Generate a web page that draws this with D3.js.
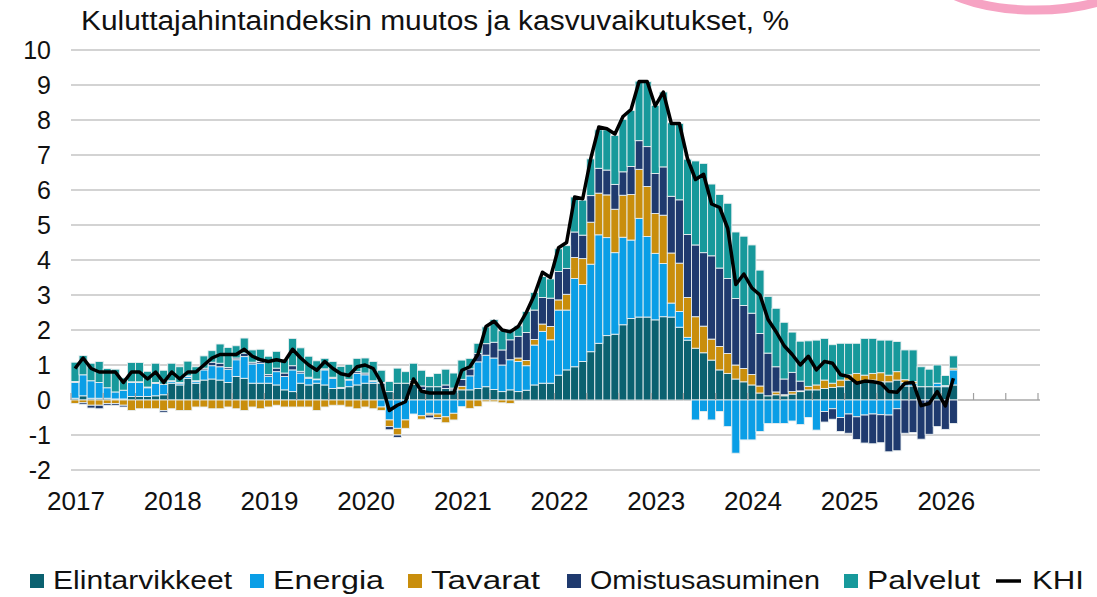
<!DOCTYPE html>
<html>
<head>
<meta charset="utf-8">
<script src="https://cdn.jsdelivr.net/npm/d3@7"></script>
<style>
  body { margin: 0; background: #fff; }
  svg text { font-family: "Liberation Sans", Arial, sans-serif; fill: #111; }
</style>
</head>
<body>
<div id="chart"></div>
<script>
// monthly data, 2017-01 ... 2026-02 (percentage points)
var elintarvikkeet = [
  0.05, 0.12, 0.05, 0.05, 0.05, 0.03, 0.03, 0.1, 0.1, 0.1, 0.12, 0.15,
  0.48, 0.43, 0.62, 0.48, 0.57, 0.6, 0.57, 0.5, 0.67, 0.62, 0.48, 0.48,
  0.48, 0.43, 0.29, 0.24, 0.48, 0.43, 0.48, 0.43, 0.33, 0.33, 0.38, 0.43,
  0.48, 0.48, 0.48, 0.24, 0.48, 0.48, 0.45, 0.3, 0.38, 0.38, 0.33, 0.29,
  0.29, 0.29, 0.33, 0.38, 0.3, 0.24, 0.29, 0.24, 0.28, 0.43, 0.48, 0.48,
  0.71, 0.86, 0.95, 1.1, 1.38, 1.62, 1.84, 1.88, 2.15, 2.33, 2.37, 2.37,
  2.29, 2.38, 2.37, 2.08, 1.71, 1.48, 1.35, 1.14, 0.86, 0.76, 0.6, 0.52,
  0.43, 0.2, 0.12, 0.15, 0.12, 0.17, 0.24, 0.29, 0.29, 0.33, 0.36, 0.38,
  0.57, 0.52, 0.52, 0.57, 0.52, 0.52, 0.57, 0.4, 0.4, 0.38, 0.38, 0.38,
  0.38, 0.43
];
var energia = [
  0.45, 0.6, 0.5, 0.45, 0.3, 0.2, 0.25, 0.4, 0.4, 0.25, 0.35, 0.3,
  0.05, 0.05, 0.05, 0.05, 0.29, 0.38, 0.38, 0.38, 0.48, 0.62, 0.55, 0.57,
  0.2, 0.38, 0.38, 0.62, 0.29, 0.19, 0.1, 0.43, 0.29, 0.0, 0.19, 0.33,
  0.24, 0.05, -0.2, -0.57, -0.81, -0.57, -0.4, -0.45, -0.38, -0.4, -0.48, -0.38,
  -0.19, 0.4, 0.76, 0.9, 0.9, 0.76, 0.86, 0.86, 0.7, 1.14, 1.48, 1.24,
  1.86, 1.71, 2.52, 2.2, 2.5, 3.1, 2.8, 2.33, 2.5, 2.24, 2.82, 2.3,
  1.9, 1.52, 0.4, 0.45, 0.08, -0.57, -0.33, -0.57, -0.33, -0.76, -1.52, -1.14,
  -1.14, -0.9, -0.67, -0.67, -0.67, -0.6, -0.7, -0.5, -0.86, -0.33, -0.25, -0.5,
  -0.4, -0.48, -0.43, -0.4, -0.42, -0.43, -0.25, 0.1, 0.08, 0.0, 0.0, 0.1,
  0.03, 0.43
];
var tavarat = [
  -0.1, -0.08, -0.15, -0.15, -0.1, -0.1, -0.15, -0.3, -0.25, -0.25, -0.25, -0.3,
  -0.25, -0.3, -0.3, -0.2, -0.2, -0.25, -0.25, -0.2, -0.25, -0.3, -0.2, -0.25,
  -0.2, -0.15, -0.2, -0.2, -0.2, -0.2, -0.3, -0.2, -0.15, -0.15, -0.2, -0.25,
  -0.2, -0.25, -0.1, -0.19, -0.19, -0.24, 0.05, -0.1, -0.05, -0.1, -0.17, -0.19,
  0.1, -0.24, -0.19, -0.05, -0.05, -0.08, -0.1, 0.1, 0.15, 0.16, 0.21, 0.38,
  0.29, 0.45, 0.6, 0.74, 1.2, 1.19, 1.22, 1.24, 1.2, 1.3, 1.4, 1.43,
  1.14, 1.38, 1.43, 1.38, 1.14, 0.9, 0.76, 0.6, 0.67, 0.57, 0.4, 0.38,
  0.3, 0.2, 0.0, 0.08, 0.03, 0.07, 0.02, 0.1, 0.14, 0.24, 0.12, 0.19,
  0.15, 0.24, 0.19, 0.19, 0.26, 0.19, 0.24, 0.08, 0.05, 0.0, 0.0, 0.0,
  0.0, 0.05
];
var omistusasuminen = [
  0.03, -0.05, -0.08, -0.1, -0.05, -0.05, -0.05, 0.02, 0.02, 0.02, 0.03, -0.05,
  0.02, 0.02, 0.02, 0.02, 0.05, 0.1, 0.1, 0.05, 0.05, 0.1, 0.05, 0.05,
  0.05, 0.1, 0.1, 0.12, 0.05, 0.03, 0.02, 0.03, 0.03, 0.03, 0.02, 0.05,
  0.05, 0.02, 0.02, -0.09, -0.07, 0.0, 0.05, 0.1, -0.08, -0.05, 0.1, 0.05,
  0.2, 0.2, 0.24, 0.33, 0.45, 0.43, 0.57, 0.62, 0.8, 0.84, 0.76, 0.81,
  0.81, 0.74, 0.73, 0.67, 0.76, 0.71, 0.71, 0.71, 0.67, 0.8, 0.82, 1.14,
  1.14, 1.38, 1.62, 1.81, 1.8, 2.05, 2.1, 2.38, 2.24, 2.14, 1.9, 1.8,
  1.75, 1.5, 1.22, 0.72, 0.45, 0.55, 0.28, 0.0, 0.0, -0.3, -0.3, -0.4,
  -0.55, -0.65, -0.8, -0.85, -0.8, -1.05, -1.2, -0.95, -0.93, -1.12, -0.98, -0.76,
  -0.84, -0.67
];
var palvelut = [
  0.55, 0.55, 0.5, 0.6, 0.55, 0.65, 0.35, 0.55, 0.55, 0.45, 0.55, 0.4,
  0.5, 0.45, 0.42, 0.4, 0.35, 0.33, 0.55, 0.57, 0.35, 0.43, 0.35, 0.35,
  0.52, 0.48, 0.38, 0.78, 0.67, 0.6, 0.52, 0.3, 0.45, 0.6, 0.43, 0.38,
  0.43, 0.55, 0.35, 0.29, 0.43, 0.33, 0.5, 0.45, 0.29, 0.38, 0.45, 0.43,
  0.55, 0.3, 0.29, 0.48, 0.65, 0.55, 0.3, 0.3, 0.6, 0.5, 0.6, 0.55,
  0.65, 0.65, 1.0, 1.0, 1.05, 1.1, 1.15, 1.4, 1.5, 1.6, 1.7, 1.86,
  1.95, 2.14, 2.1, 2.18, 2.15, 2.4, 2.55, 2.05, 2.1, 2.15, 1.9, 1.98,
  1.95, 1.81, 1.62, 1.67, 1.62, 1.15, 1.14, 1.3, 1.28, 1.19, 1.1, 1.05,
  0.9, 0.86, 1.05, 1.0, 0.93, 1.0, 0.86, 0.85, 0.9, 0.57, 0.5, 0.52,
  0.29, 0.35
];
var khi = [
  0.9, 1.2, 0.9, 0.8, 0.8, 0.8, 0.5, 0.8, 0.8, 0.6, 0.8, 0.5,
  0.8, 0.6, 0.8, 0.8, 1.0, 1.2, 1.3, 1.3, 1.3, 1.45, 1.25, 1.15,
  1.1, 1.15, 1.1, 1.45, 1.2, 1.0, 0.85, 1.1, 0.9, 0.75, 0.7, 0.95,
  1.0, 0.9, 0.5, -0.3, -0.15, -0.05, 0.6, 0.25, 0.2, 0.2, 0.2, 0.2,
  0.85, 0.95, 1.3, 2.1, 2.25, 2.0, 1.95, 2.1, 2.5, 3.0, 3.65, 3.5,
  4.35, 4.5, 5.8, 5.75, 6.9, 7.8, 7.75, 7.6, 8.1, 8.3, 9.1, 9.1,
  8.4, 8.8, 7.9, 7.9, 6.9, 6.3, 6.45, 5.6, 5.5, 4.9, 3.3, 3.6,
  3.2, 3.0, 2.3, 1.95, 1.55, 1.3, 1.0, 1.25, 0.86, 1.1, 1.05, 0.72,
  0.67, 0.48, 0.54, 0.52, 0.48, 0.24, 0.22, 0.48, 0.5, -0.16, -0.1, 0.24,
  -0.17, 0.62
];

var seriesNames = ["Elintarvikkeet", "Energia", "Tavarat", "Omistusasuminen", "Palvelut"];
var seriesValues = [elintarvikkeet, energia, tavarat, omistusasuminen, palvelut];
var seriesColors = ["#0b6170", "#0a9ee6", "#c98e0c", "#1f3a6e", "#17999b"];
var yearLabels = ["2017", "2018", "2019", "2020", "2021", "2022", "2023", "2024", "2025", "2026"];
var yTicks = [-2, -1, 0, 1, 2, 3, 4, 5, 6, 7, 8, 9, 10];

var width = 1097,
    height = 597;

var svg = d3.select("#chart")
    .append("svg")
    .attr("width", width)
    .attr("height", height);

// decorative corner shape
svg.append("ellipse")
    .attr("cx", 1035).attr("cy", -28)
    .attr("rx", 102).attr("ry", 38)
    .attr("fill", "#fff")
    .attr("stroke", "#f6a3c3")
    .attr("stroke-width", 9);

var x = d3.scaleBand()
    .domain(d3.range(120))
    .range([71, 1038])
    .padding(0);

var y = d3.scaleLinear()
    .domain([-2, 10])
    .range([470, 50]);

svg.append("text")
    .attr("x", 81)
    .attr("y", 30)
    .attr("font-size", "27px")
    .attr("textLength", 708)
    .attr("lengthAdjust", "spacingAndGlyphs")
    .text("Kuluttajahintaindeksin muutos ja kasvuvaikutukset, %");

// gridlines
svg.append("g")
    .selectAll("line")
    .data(yTicks)
    .enter().append("line")
    .attr("x1", 71)
    .attr("x2", 1040)
    .attr("y1", function (d) { return y(d); })
    .attr("y2", function (d) { return y(d); })
    .attr("stroke", function (d) { return d === 0 ? "#a8a8a8" : "#c4c4c4"; })
    .attr("stroke-width", 1.6);

svg.append("g")
    .selectAll("text")
    .data(yTicks)
    .enter().append("text")
    .attr("x", 51)
    .attr("y", function (d) { return y(d); })
    .attr("dy", "0.36em")
    .attr("text-anchor", "end")
    .attr("font-size", "25px")
    .text(function (d) { return d; });

// stacked bars
var table = khi.map(function (v, i) {
    var row = { i: i };
    seriesNames.forEach(function (name, s) { row[name] = seriesValues[s][i]; });
    return row;
});

var stack = d3.stack()
    .keys(seriesNames)
    .offset(d3.stackOffsetDiverging);

var layers = stack(table);

svg.append("g")
    .selectAll("g")
    .data(layers)
    .enter().append("g")
    .attr("fill", function (d, s) { return seriesColors[s]; })
    .selectAll("rect")
    .data(function (d) { return d; })
    .enter().append("rect")
    .attr("x", function (d) { return x(d.data.i); })
    .attr("width", x.bandwidth())
    .attr("y", function (d) { return y(Math.max(d[0], d[1])); })
    .attr("height", function (d) { return Math.abs(y(d[0]) - y(d[1])); })
    .attr("stroke", "#e8eef0")
    .attr("stroke-width", 0.9);

// small ticks on the zero line every 4 months
svg.append("g")
    .selectAll("line")
    .data(d3.range(0, 121, 4))
    .enter().append("line")
    .attr("x1", function (d) { return 71 + d * x.step(); })
    .attr("x2", function (d) { return 71 + d * x.step(); })
    .attr("y1", y(0) - 7)
    .attr("y2", y(0))
    .attr("stroke", "#a0a0a0")
    .attr("stroke-width", 1.2);

// KHI line
var line = d3.line()
    .x(function (d, i) { return x(i) + x.bandwidth() / 2; })
    .y(function (d) { return y(d); });

svg.append("path")
    .datum(khi)
    .attr("fill", "none")
    .attr("stroke", "#000")
    .attr("stroke-width", 3.5)
    .attr("stroke-linejoin", "round")
    .attr("d", line);

// year labels
svg.append("g")
    .selectAll("text")
    .data(yearLabels)
    .enter().append("text")
    .attr("x", function (d, k) { return x(k * 12) + x.bandwidth() / 2 + 1; })
    .attr("y", 510)
    .attr("text-anchor", "middle")
    .attr("font-size", "26px")
    .text(function (d) { return d; });

// legend (item x positions and text widths taken from the original layout)
var legendX = [30, 250, 408, 567, 844];
var legendW = [179, 111, 109, 230, 113];
var legend = svg.append("g");
seriesNames.forEach(function (name, s) {
    legend.append("rect")
        .attr("x", legendX[s]).attr("y", 574)
        .attr("width", 14).attr("height", 14)
        .attr("fill", seriesColors[s]);
    legend.append("text")
        .attr("x", legendX[s] + 23)
        .attr("y", 589)
        .attr("font-size", "26px")
        .attr("textLength", legendW[s])
        .attr("lengthAdjust", "spacingAndGlyphs")
        .text(name);
});
legend.append("line")
    .attr("x1", 996).attr("x2", 1021)
    .attr("y1", 581).attr("y2", 581)
    .attr("stroke", "#000")
    .attr("stroke-width", 3.5);
legend.append("text")
    .attr("x", 1032)
    .attr("y", 589)
    .attr("font-size", "26px")
    .attr("textLength", 52)
    .attr("lengthAdjust", "spacingAndGlyphs")
    .text("KHI");
</script>
</body>
</html>
